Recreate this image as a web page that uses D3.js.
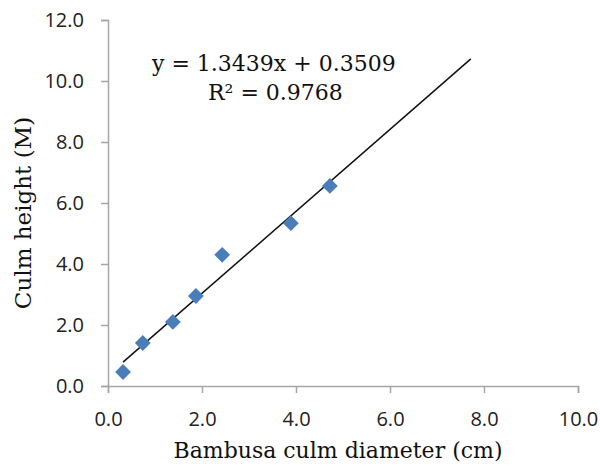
<!DOCTYPE html>
<html>
<head>
<meta charset="utf-8">
<script src="https://cdn.jsdelivr.net/npm/d3@7"></script>
<style>
  body { margin: 0; background: #fff; }
  svg { display: block; }
</style>
</head>
<body>
<script>
// culm diameter (cm) vs culm height (M)
var diameter = [0.32, 0.74, 1.38, 1.87, 2.43, 3.89, 4.72];
var heights = [0.46, 1.41, 2.10, 2.95, 4.30, 5.34, 6.56];
var xTicks = [0, 2, 4, 6, 8, 10];
var yTicks = [0, 2, 4, 6, 8, 10, 12];
var slope = 1.3439, intercept = 0.3509, rSquared = 0.9768;
var forward = 3; // trendline forecast

var width = 600,
    height = 467;

var margin = {left: 108, right: 22, top: 20, bottom: 81};

var svg = d3.select("body").append("svg")
    .attr("width", width)
    .attr("height", height);

var x = d3.scaleLinear().domain([0, 10]).range([margin.left, width - margin.right]);
var y = d3.scaleLinear().domain([0, 12]).range([height - margin.bottom, margin.top]);

var tickFont = "'Open Sans', sans-serif";
var serif = "'DejaVu Serif', serif";

// y axis
var yAxis = svg.append("g")
    .attr("transform", "translate(" + x(0) + ",0)")
    .call(d3.axisLeft(y).tickValues(yTicks).tickSize(7).tickPadding(17).tickFormat(d3.format(".1f")));

// x axis
var xAxis = svg.append("g")
    .attr("transform", "translate(0," + y(0) + ")")
    .call(d3.axisBottom(x).tickValues(xTicks).tickSize(7).tickPadding(19).tickFormat(d3.format(".1f")));

[xAxis, yAxis].forEach(function(g){
  g.selectAll("path, line").attr("stroke", "#a6a6a6").attr("stroke-width", 1.5);
  g.selectAll("text").attr("fill", "#222").style("font-family", tickFont).style("font-size", "20px");
});
yAxis.selectAll("text").attr("dy", "0.34em");

// trendline
var x0 = d3.min(diameter), x1 = d3.max(diameter) + forward;
svg.append("line")
    .attr("x1", x(x0)).attr("y1", y(slope * x0 + intercept))
    .attr("x2", x(x1)).attr("y2", y(slope * x1 + intercept))
    .attr("stroke", "#111").attr("stroke-width", 1.5);

// points
var pts = diameter.map(function(d, i){ return [d, heights[i]]; });
svg.selectAll(".pt").data(pts).enter().append("path")
    .attr("class", "pt")
    .attr("d", d3.symbol().type(d3.symbolSquare).size(125))
    .attr("transform", function(d){ return "translate(" + x(d[0]) + "," + y(d[1]) + ") rotate(45)"; })
    .attr("fill", "#4a7ebb");

// equation
svg.append("text")
    .attr("x", 152).attr("y", 71)
    .style("font-family", serif).style("font-size", "22px").attr("fill", "#111")
    .text("y = " + slope + "x + " + intercept);
svg.append("text")
    .attr("x", 208).attr("y", 100)
    .style("font-family", serif).style("font-size", "22px").attr("fill", "#111")
    .text("R² = " + rSquared);

// axis titles
svg.append("text")
    .attr("transform", "translate(31,213) rotate(-90)")
    .attr("text-anchor", "middle")
    .style("font-family", serif).style("font-size", "23px").attr("fill", "#111")
    .text("Culm height (M)");

svg.append("text")
    .attr("x", 338).attr("y", 458)
    .attr("text-anchor", "middle")
    .style("font-family", serif).style("font-size", "22px").attr("fill", "#111")
    .text("Bambusa culm diameter (cm)");
</script>
</body>
</html>
